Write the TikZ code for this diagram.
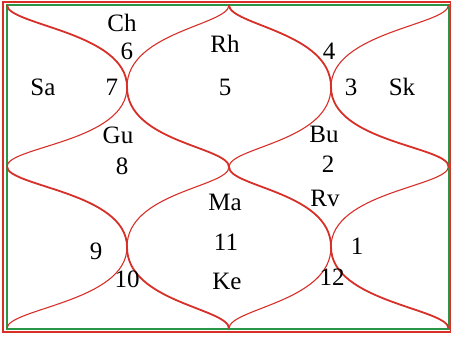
\documentclass[tikz,border=0pt]{standalone}
\usepackage{fontspec}
\setmainfont{Liberation Serif}
\definecolor{chartred}{RGB}{214,48,40}
\definecolor{chartgreen}{RGB}{40,150,70}
\begin{document}
\begin{tikzpicture}[x=1pt,y=-1pt,
  thickline/.style={draw=chartred,line width=1.8pt},
  thinline/.style={draw=chartred,line width=1.1pt},
  lbl/.style={font=\fontsize{25}{27}\selectfont,inner sep=0pt,anchor=center}]
\useasboundingbox (0,0) rectangle (451,338);
\fill[white] (0,0) rectangle (451,338);
% frame
\draw[chartred,line width=2pt] (3,1.5) rectangle (450.5,332);
\draw[chartgreen,line width=2pt] (7,5) rectangle (448.5,328.5);
% points
\coordinate (TL) at (7,5);
\coordinate (TR) at (448.5,5);
\coordinate (BL) at (7,328.5);
\coordinate (BR) at (448.5,328.5);
\coordinate (T) at (229,5);
\coordinate (B) at (229,328.5);
\coordinate (L) at (7,166.5);
\coordinate (R) at (448.5,166.5);
\coordinate (C) at (229,167);
\coordinate (P1) at (127,87);
\coordinate (P2) at (331,87);
\coordinate (P3) at (127,247);
\coordinate (P4) at (331,247);
% thick curves
\draw[thickline] (TL) .. controls +(0,20) and +(0,-55) .. (P1)
  .. controls +(0,55) and +(0,-20) .. (C)
  .. controls +(0,20) and +(0,-55) .. (P4)
  .. controls +(0,55) and +(0,-20) .. (BR);
\draw[thickline] (T) .. controls +(0,20) and +(0,-55) .. (P2)
  .. controls +(0,55) and +(0,-20) .. (R);
\draw[thickline] (L) .. controls +(0,20) and +(0,-55) .. (P3)
  .. controls +(0,55) and +(0,-20) .. (B);
% thin curves
\draw[thinline] (TR) .. controls +(0,20) and +(0,-55) .. (P2)
  .. controls +(0,55) and +(0,-20) .. (C)
  .. controls +(0,20) and +(0,-55) .. (P3)
  .. controls +(0,55) and +(0,-20) .. (BL);
\draw[thinline] (T) .. controls +(0,20) and +(0,-55) .. (P1)
  .. controls +(0,55) and +(0,-20) .. (L);
\draw[thinline] (R) .. controls +(0,20) and +(0,-55) .. (P4)
  .. controls +(0,55) and +(0,-20) .. (B);
% labels
\node[lbl] (ch) at (122,23) {Ch};
\node[lbl] (n6) at (127,51) {6};
\node[lbl] (sa) at (43,87) {Sa};
\node[lbl] (n7) at (112,87) {7};
\node[lbl] (rh) at (225,44) {Rh};
\node[lbl] (n5) at (225,87) {5};
\node[lbl] (n4) at (329,51) {4};
\node[lbl] (n3) at (351,87) {3};
\node[lbl] (sk) at (402,87) {Sk};
\node[lbl] (gu) at (118,135) {Gu};
\node[lbl] (n8) at (122,166) {8};
\node[lbl] (bu) at (324,134) {Bu};
\node[lbl] (n2) at (328,164) {2};
\node[lbl] (rv) at (325,198) {Rv};
\node[lbl] (ma) at (225,202) {Ma};
\node[lbl] (n11) at (226,242) {11};
\node[lbl] (ke) at (227,281) {Ke};
\node[lbl] (n9) at (96,251) {9};
\node[lbl] (n10) at (127,279) {10};
\node[lbl] (n1) at (357,246) {1};
\node[lbl] (n12) at (332,277) {12};
\end{tikzpicture}
\end{document}
